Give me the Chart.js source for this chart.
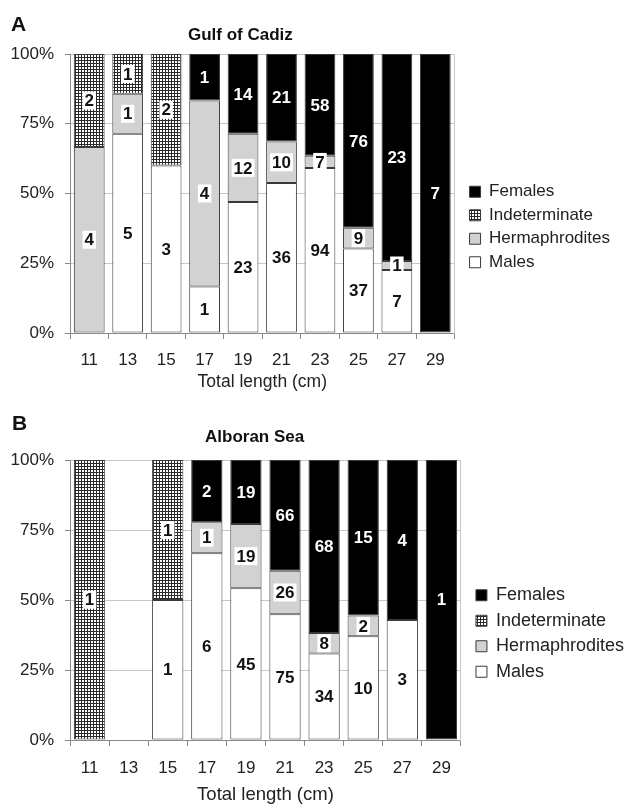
<!DOCTYPE html>
<html>
<head>
<meta charset="utf-8">
<script src="https://cdn.jsdelivr.net/npm/chart.js@4.4.1/dist/chart.umd.min.js"></script>
<style>
  body { margin: 0; background: #fff; font-family: "Liberation Sans", Arial, sans-serif; color: #111; }
  .panel { position: absolute; left: 0; width: 627px; }
  .letter { position: absolute; font-weight: bold; font-size: 21px; line-height: 1; }
  .title { position: absolute; font-weight: bold; font-size: 17px; line-height: 1; }
</style>
</head>
<body>
<div class="panel" style="top:0;height:400px">
  <canvas id="chartA" width="627" height="400"></canvas>
  <div class="letter" style="left:11px;top:13px">A</div>
  <div class="title" style="left:188px;top:26px">Gulf of Cadiz</div>
</div>
<div class="panel" style="top:400px;height:407px">
  <canvas id="chartB" width="627" height="407"></canvas>
  <div class="letter" style="left:12px;top:12px">B</div>
  <div class="title" style="left:205px;top:28px">Alboran Sea</div>
</div>
<script>
// longueurs totales (cm)
const lengths = ['11', '13', '15', '17', '19', '21', '23', '25', '27', '29'];
const yTicks = [0, 25, 50, 75, 100];

// Gulf of Cadiz - effectifs
const cadizMales = [0, 5, 3, 1, 23, 36, 94, 37, 7, 0];
const cadizHerm = [4, 1, 0, 4, 12, 10, 7, 9, 1, 0];
const cadizIndet = [2, 1, 2, 0, 0, 0, 0, 0, 0, 0];
const cadizFemales = [0, 0, 0, 1, 14, 21, 58, 76, 23, 7];

// Alboran Sea - effectifs
const alboranMales = [0, 0, 1, 6, 45, 75, 34, 10, 3, 0];
const alboranHerm = [0, 0, 0, 1, 19, 26, 8, 2, 0, 0];
const alboranIndet = [1, 0, 1, 0, 0, 0, 0, 0, 0, 0];
const alboranFemales = [0, 0, 0, 2, 19, 66, 68, 15, 4, 1];

const FONT = '"Liberation Sans", Arial, sans-serif';
Chart.defaults.font.family = FONT;
Chart.defaults.color = '#222';

// motif quadrillé pour les indéterminés
function gridPattern() {
  const c = document.createElement('canvas');
  c.width = 3; c.height = 3;
  const g = c.getContext('2d');
  g.fillStyle = '#fff'; g.fillRect(0, 0, 3, 3);
  g.fillStyle = '#2a2a2a'; g.fillRect(0, 0, 3, 1); g.fillRect(0, 0, 1, 3);
  return g.createPattern(c, 'repeat');
}

// étiquettes des effectifs au centre de chaque segment
const countLabels = {
  id: 'countLabels',
  afterDatasetsDraw(chart) {
    const ctx = chart.ctx;
    ctx.save();
    ctx.font = 'bold 17px ' + FONT;
    ctx.textAlign = 'center';
    ctx.textBaseline = 'middle';
    chart.data.datasets.forEach((ds, i) => {
      chart.getDatasetMeta(i).data.forEach((bar, j) => {
        const n = ds.counts[j];
        if (!n) return;
        const y = (bar.y + bar.base) / 2;
        const w = ctx.measureText(String(n)).width;
        if (ds.labelBox) {
          ctx.fillStyle = '#fff';
          ctx.fillRect(bar.x - w / 2 - 2, y - 9, w + 4, 18);
        }
        ctx.fillStyle = ds.labelColor;
        ctx.fillText(String(n), bar.x, y + 1);
      });
    });
    ctx.restore();
  }
};

function series(label, counts, totals, fill, labelColor, labelBox) {
  return {
    label: label,
    counts: counts,
    data: counts.map((n, i) => n ? n / totals[i] * 100 : null),
    backgroundColor: fill,
    borderColor: '#3a3a3a',
    borderWidth: 1,
    borderSkipped: false,
    barPercentage: 0.8,
    categoryPercentage: 1,
    labelColor: labelColor,
    labelBox: labelBox
  };
}

function makeChart(id, males, herm, indet, females, o) {
  const totals = lengths.map((_, i) => males[i] + herm[i] + indet[i] + females[i]);
  return new Chart(document.getElementById(id), {
    type: 'bar',
    data: {
      labels: lengths,
      datasets: [
        series('Males', males, totals, '#ffffff', '#111', false),
        series('Hermaphrodites', herm, totals, '#d2d2d2', '#111', true),
        series('Indeterminate', indet, totals, gridPattern(), '#111', true),
        series('Females', females, totals, '#000000', '#fff', false)
      ]
    },
    options: {
      responsive: false,
      animation: false,
      layout: { padding: { top: o.top, left: 0, right: o.padRight, bottom: 0 } },
      plugins: {
        tooltip: { enabled: false },
        legend: {
          position: 'right',
          reverse: true,
          maxWidth: 220,
          labels: {
            boxWidth: 11, boxHeight: 11, padding: o.legendPad,
            color: '#222', font: { size: o.legendFont }
          }
        }
      },
      scales: {
        x: {
          stacked: true,
          afterFit: (s) => { s.height = 67; },
          grid: { offset: true, drawOnChartArea: false, tickLength: 6, color: '#888' },
          border: { color: '#888' },
          ticks: { padding: o.tickPad, font: { size: 17 }, color: '#222' },
          title: { display: true, text: 'Total length (cm)', font: { size: o.titleFont },
                   padding: { top: 0, bottom: o.titlePad }, color: '#222' }
        },
        y: {
          stacked: true,
          min: 0, max: 100,
          afterFit: (s) => { s.width = 70; },
          afterBuildTicks: (s) => { s.ticks = yTicks.map(v => ({ value: v })); },
          grid: { color: '#c8c8c8', tickColor: '#888', tickLength: 5 },
          border: { color: '#888' },
          ticks: { padding: 11, font: { size: 17 }, color: '#222', callback: v => v + '%' }
        },
        // axe vide à droite: bordure du cadre + écart avant la légende
        right: {
          type: 'linear', position: 'right', display: true,
          afterFit: (s) => { s.width = o.gap; },
          grid: { drawOnChartArea: false, drawTicks: false },
          ticks: { display: false },
          border: { display: true, color: '#c8c8c8' }
        }
      }
    },
    plugins: [countLabels]
  });
}

makeChart('chartA', cadizMales, cadizHerm, cadizIndet, cadizFemales,
  { top: 54, padRight: 7, legendPad: 6.5, legendFont: 17, gap: 8.5, tickPad: 11, titleFont: 17.5, titlePad: 7.5 });
makeChart('chartB', alboranMales, alboranHerm, alboranIndet, alboranFemales,
  { top: 60, padRight: -7, legendPad: 7.5, legendFont: 18, gap: 7.5, tickPad: 12, titleFont: 18.5, titlePad: 1 });
</script>
</body>
</html>
